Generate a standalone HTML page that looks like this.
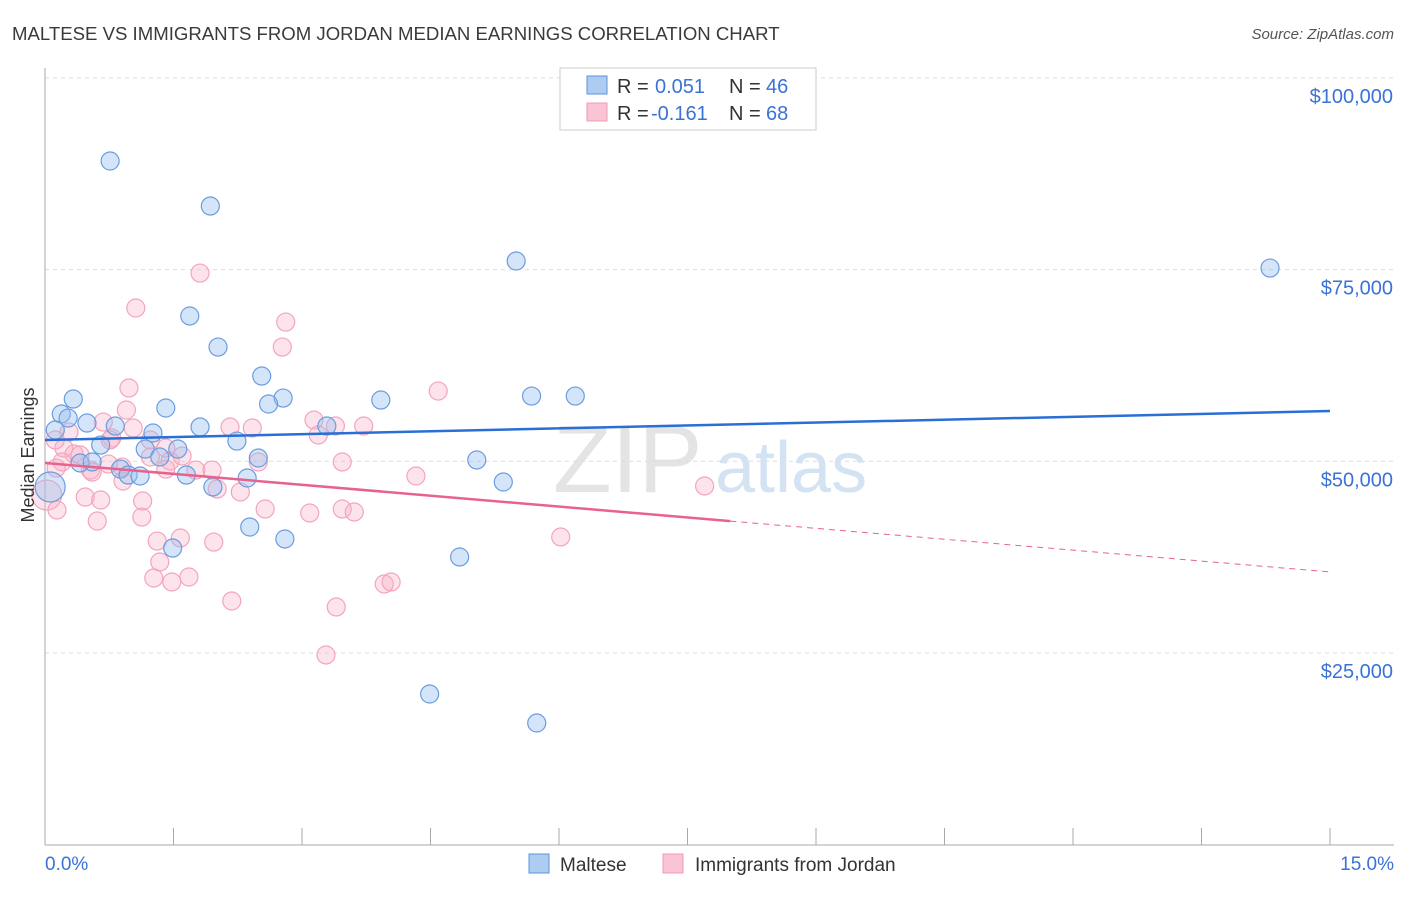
<!DOCTYPE html>
<html><head><meta charset="utf-8"><style>
body{margin:0;background:#fff;font-family:"Liberation Sans",sans-serif;}
svg text{font-family:"Liberation Sans",sans-serif;}
</style></head><body>
<svg id="chart" width="1406" height="892">
<text x="12" y="40" font-size="18.6" fill="#3a3a3a">MALTESE VS IMMIGRANTS FROM JORDAN MEDIAN EARNINGS CORRELATION CHART</text>
<text x="1394" y="39" font-size="15" fill="#555" font-style="italic" text-anchor="end">Source: ZipAtlas.com</text>
<g>
<text x="553" y="492" font-size="96" font-family="Liberation Serif" fill="#e4e4e4">ZIP</text>
<text x="715" y="492" font-size="72" fill="#d4e3f3">atlas</text>
</g>
<g id="grid"></g><g id="axes"></g><g id="pts"></g><g id="trends"></g>
<text transform="translate(34,455) rotate(-90)" font-size="18" fill="#333" text-anchor="middle">Median Earnings</text>
<g>
<rect x="560" y="68" width="256" height="62" fill="#fff" stroke="#ccc"/>
<rect x="587" y="76" width="20" height="18" fill="#aecbf2" stroke="#5b93dc"/>
<rect x="587" y="103" width="20" height="18" fill="#f9c4d3" stroke="#f09ab4"/>
<g font-size="20">
<text x="617" y="93" fill="#333">R =</text><text x="655" y="93" fill="#3a72d6">0.051</text>
<text x="729" y="93" fill="#333">N =</text><text x="766" y="93" fill="#3a72d6">46</text></g>
<g font-size="20">
<text x="617" y="120" fill="#333">R =</text><text x="651" y="120" fill="#3a72d6">-0.161</text>
<text x="729" y="120" fill="#333">N =</text><text x="766" y="120" fill="#3a72d6">68</text></g>
</g>
<g>
<rect x="529" y="854" width="20" height="19" fill="#aecbf2" stroke="#5b93dc"/>
<text x="560" y="871" font-size="19" fill="#333">Maltese</text>
<rect x="663" y="854" width="20" height="19" fill="#f9c4d3" stroke="#f09ab4"/>
<text x="695" y="871" font-size="19" fill="#333">Immigrants from Jordan</text>
</g>
</svg>
<script>
const yTicks=[25000,50000,75000,100000];
const yTickLabels=["$25,000","$50,000","$75,000","$100,000"];
const xTicks=[0,1.5,3,4.5,6,7.5,9,10.5,12,13.5,15];
const xEndLabels=["0.0%","15.0%"];
const malteseX=[0.76,1.93,5.50,14.30,1.69,2.02,2.53,2.78,2.61,3.92,5.68,6.19,0.33,0.19,0.27,1.41,0.12,0.49,0.82,1.81,1.26,2.24,0.65,3.29,1.17,1.55,1.34,2.49,5.04,0.41,0.55,0.88,0.97,1.11,1.65,1.96,2.36,5.35,0.06,2.39,2.80,1.49,4.84,4.49,5.74];
const malteseY=[89160,83290,76120,75200,68950,64900,61120,58250,57470,57990,58510,58510,58120,56170,55640,56950,54080,54990,54600,54470,53690,52640,52120,54600,51600,51600,50560,50430,50170,49780,49910,48990,48210,48080,48210,46650,47820,47300,46650,41430,39870,38690,37520,19650,15870];
const jordanX=[1.81,1.06,2.81,2.77,0.98,4.59,0.95,0.68,3.14,3.39,3.19,3.72,1.03,0.78,0.28,1.23,0.22,0.34,0.41,0.20,0.13,0.53,0.90,0.74,1.23,1.46,1.60,1.76,1.95,1.41,2.49,3.47,4.33,0.91,0.55,0.02,0.47,0.65,1.14,2.57,2.01,3.09,3.47,3.61,0.61,1.13,1.31,1.58,1.97,6.02,7.70,1.34,1.27,1.48,1.68,2.18,3.96,4.04,3.40,3.28,0.76,0.12,2.16,2.42,1.41,0.14,2.28];
const jordanY=[74550,69990,68160,64900,59560,59160,56690,55120,55380,54600,53430,54600,54340,53040,53820,52780,51730,50950,50820,49910,49120,48860,49250,49640,50560,50040,50690,48860,48860,48990,49910,49910,48080,47430,48600,45600,45340,44950,44820,43780,46390,43260,43780,43390,42210,42730,39600,40000,39470,40130,46780,36870,34780,34260,34910,31780,34000,34260,31000,24740,52780,52780,54470,54340,51730,43650,46000];
const malteseTrend=[52780,56560];
const jordanTrend=[49780,35570];
const jordanSolidEnd=8.0;
const NS="http://www.w3.org/2000/svg";
const xs=v=>45+v/15*1285;
const ys=v=>653-(v-25000)*191.7/25000;
function mk(t,a,p){const e=document.createElementNS(NS,t);for(const k in a)e.setAttribute(k,a[k]);p.appendChild(e);return e;}
const grid=document.getElementById('grid'),axes=document.getElementById('axes'),pts=document.getElementById('pts'),tr=document.getElementById('trends');
yTicks.forEach((v,i)=>{
 const l=mk('line',{x1:45,x2:1394,y1:ys(v),y2:ys(v),stroke:'#ddd','stroke-dasharray':'4,4'},grid);
 
 
 const t=mk('text',{x:1393,y:ys(v)+25,'font-size':20,fill:'#3a72d6','text-anchor':'end'},grid);
 t.textContent=yTickLabels[i];
 
 
});
const ax=mk('line',{x1:45,x2:45,y1:68,y2:845,stroke:'#aaa'},axes);


const bx=mk('line',{x1:45,x2:1394,y1:845,y2:845,stroke:'#aaa'},axes);


xTicks.forEach(v=>{const t=mk('line',{x1:xs(v),x2:xs(v),y1:828,y2:845,stroke:'#aaa'},axes);
 
 });
[[0,'start',45],[15,'end',1394]].forEach((d,i)=>{const t=mk('text',{x:d[2],y:870,'font-size':19,fill:'#3a72d6','text-anchor':d[1]},axes);t.textContent=xEndLabels[i];
 
 });
function dots(X,Y,fill,stroke,name){X.forEach((x,i)=>{const big=x<0.08;
 const c=mk('circle',{cx:xs(x),cy:ys(Y[i]),r:big?15:9,fill:fill,stroke:stroke,'stroke-width':1.2},pts);
 
 });}
dots(jordanX,jordanY,'rgba(248,175,198,0.35)','#f3a5bd','jordan-point');
dots(malteseX,malteseY,'rgba(150,190,240,0.4)','#6a9ddf','maltese-point');
const bl=mk('line',{x1:xs(0),y1:ys(malteseTrend[0]),x2:xs(15),y2:ys(malteseTrend[1]),stroke:'#2a6fd6','stroke-width':2.5},tr);


const jm=v=>jordanTrend[0]+(jordanTrend[1]-jordanTrend[0])*v/15;
const pl=mk('line',{x1:xs(0),y1:ys(jm(0)),x2:xs(jordanSolidEnd),y2:ys(jm(jordanSolidEnd)),stroke:'#e8628e','stroke-width':2.5},tr);


const pd=mk('line',{x1:xs(jordanSolidEnd),y1:ys(jm(jordanSolidEnd)),x2:xs(15),y2:ys(jm(15)),stroke:'#e8628e','stroke-width':1,'stroke-dasharray':'6,5'},tr);


</script>
</body></html>
